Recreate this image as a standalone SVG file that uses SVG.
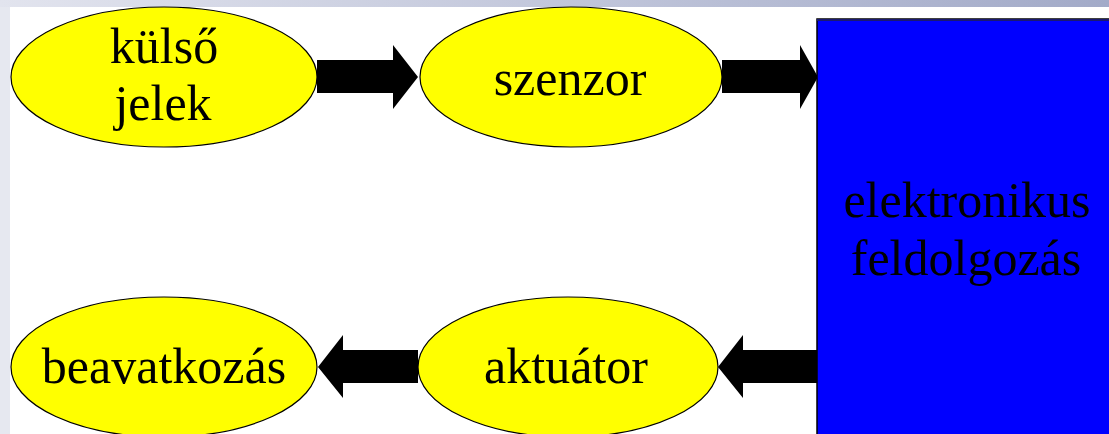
<svg xmlns="http://www.w3.org/2000/svg" width="1109" height="434" viewBox="0 0 1109 434">
  <defs>
    <linearGradient id="topband" x1="0" y1="0" x2="1" y2="0">
      <stop offset="0" stop-color="#e2e4ee"/>
      <stop offset="1" stop-color="#a2aac8"/>
    </linearGradient>
    <style>
      .node ellipse { fill: #ffff00; stroke: #000; stroke-width: 1.2; }
      .lbl { font-family: "Liberation Serif", "Times New Roman", serif; font-size: 50px; fill: #000; text-anchor: middle; }
      .arrow { fill: #000; stroke: none; }
    </style>
  </defs>

  <rect x="0" y="0" width="1109" height="434" fill="#ffffff"/>
  <rect x="0" y="0" width="1109" height="7" fill="url(#topband)"/>
  <rect x="0" y="7" width="10" height="427" fill="#e6e8f0"/>

  <g id="connectors">
    <polygon class="arrow" points="317,60 393,60 393,45 418,77 393,109 393,93 317,93"/>
    <polygon class="arrow" points="722,60 800,60 800,45 818,77 800,109 800,93 722,93"/>
    <polygon class="arrow" points="817,350 743,350 743,335 718,367 743,398 743,383 817,383"/>
    <polygon class="arrow" points="418,350 343,350 343,335 318,367 343,398 343,383 418,383"/>
  </g>

  <g id="node-kulso-jelek" class="node">
    <ellipse cx="164" cy="77" rx="153" ry="70"/>
    <text class="lbl" x="164" y="63">külső</text>
    <text class="lbl" x="163" y="120">jelek</text>
  </g>

  <g id="node-szenzor" class="node">
    <ellipse cx="571" cy="77" rx="151" ry="70"/>
    <text class="lbl" x="570" y="95">szenzor</text>
  </g>

  <g id="node-elektronikus-feldolgozas">
    <rect x="817" y="19" width="300" height="420" fill="#0000ff" stroke="#000" stroke-width="1.5"/>
    <rect x="817" y="19" width="292" height="2" fill="#1a1a70"/>
    <text class="lbl" x="967" y="217">elektronikus</text>
    <text class="lbl" x="966" y="275">feldolgozás</text>
  </g>

  <g id="node-aktuator" class="node">
    <ellipse cx="568" cy="367" rx="150" ry="70"/>
    <text class="lbl" x="566" y="383">aktuátor</text>
  </g>

  <g id="node-beavatkozas" class="node">
    <ellipse cx="164" cy="367" rx="153" ry="70"/>
    <text class="lbl" x="164" y="383">beavatkozás</text>
  </g>
</svg>
